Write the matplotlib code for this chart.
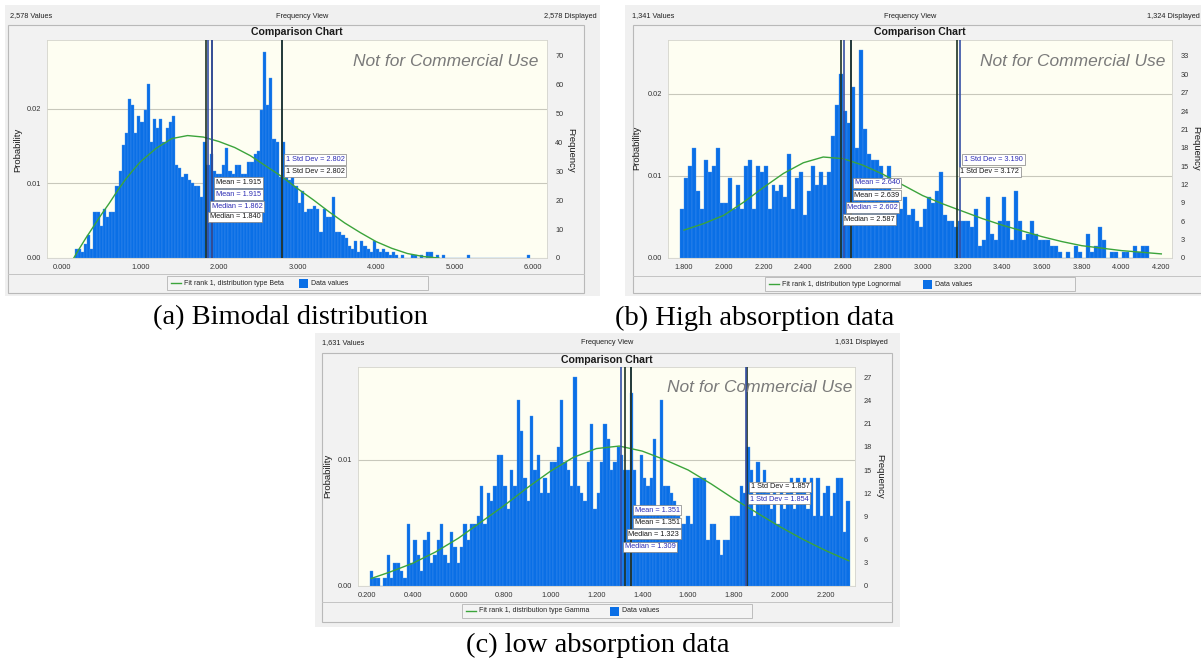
import matplotlib
matplotlib.use("Agg")
import matplotlib.pyplot as plt
from matplotlib.patches import Rectangle
from matplotlib.lines import Line2D

plt.rcParams['font.family'] = ['Liberation Sans', 'DejaVu Sans']

# ---------------- (a) bimodal distribution ----------------
A_N_VALUES = 2578
A_N_DISPLAYED = 2578
A_BIN_START = 0.16
A_BIN_WIDTH = 0.04
A_COUNTS = [
    3, 3, 2, 5, 8, 3, 16, 16, 11, 17,
    14, 16, 16, 25, 30, 39, 43, 55, 53, 43,
    49, 47, 51, 60, 40, 48, 45, 48, 40, 45,
    47, 49, 32, 31, 28, 29, 27, 26, 25, 25,
    21, 40, 32, 36, 30, 29, 29, 32, 38, 30,
    29, 32, 32, 29, 29, 33, 33, 36, 37, 51,
    71, 53, 62, 41, 40, 28,
    40, 33, 27, 29, 25, 19, 23, 16, 17, 17,
    18, 17, 9, 17, 14, 14, 21, 9, 9, 8,
    7, 4, 3, 6, 2, 6, 4, 3, 2, 6,
    3, 2, 3, 2, 1, 2, 1,
    0, 1, 0, 0, 1, 1, 0, 1, 0, 2, 2, 0, 1, 0, 1,
    0, 0, 0, 0, 0, 0, 0,
    1,
    0, 0, 0, 0, 0, 0, 0, 0, 0, 0, 0, 0, 0, 0, 0, 0, 0, 0,
    1,
]
A_FIT_NAME = "Beta"
A_FIT_X = [0.15, 0.2, 0.3, 0.4, 0.5, 0.6, 0.7, 0.8, 0.9, 1.0, 1.2, 1.4, 1.6, 1.8,
           2.0, 2.2, 2.4, 2.6, 2.8, 3.0, 3.2, 3.4, 3.6, 3.8, 4.0, 4.2, 4.4, 4.6, 4.8]
A_FIT_P = [0.0, 0.0009, 0.0026, 0.0042, 0.0058, 0.0073, 0.0089, 0.0104, 0.0117, 0.0129,
           0.0147, 0.0160, 0.0164, 0.0162, 0.0156, 0.0148, 0.0137, 0.0123, 0.0109, 0.0093,
           0.0078, 0.0062, 0.0047, 0.0034, 0.0022, 0.0013, 0.0006, 0.0002, 0.0]
A_STAT_NAMES = ["1 Std Dev", "1 Std Dev", "Mean", "Mean", "Median", "Median"]
A_STAT_VALUES = [2.802, 2.802, 1.915, 1.915, 1.862, 1.840]
A_STAT_SERIES = ["blue", "dark", "dark", "blue", "blue", "dark"]
A_XTICKS = [0.0, 1.0, 2.0, 3.0, 4.0, 5.0, 6.0]
A_PROB_TICKS = [0.0, 0.01, 0.02]
A_FREQ_TICKS = [0, 10, 20, 30, 40, 50, 60, 70]
A_CAPTION = "(a) Bimodal distribution"

# ---------------- (b) high absorption data ----------------
B_N_VALUES = 1341
B_N_DISPLAYED = 1324
B_BIN_START = 1.78
B_BIN_WIDTH = 0.02
B_COUNTS = [
    8, 13, 15, 18, 11, 8, 16, 14, 15, 18,
    9, 9, 13, 8, 12, 8, 15, 16, 8, 15,
    14, 15, 8, 12, 11, 12, 10, 17, 8, 13,
    14, 7, 11, 15, 12, 14, 12, 14, 20, 25,
    30, 24, 22, 28, 18, 34, 21, 17, 16, 16,
    15, 13, 15, 11, 10, 8, 10, 7, 8, 6,
    5,
    8, 10, 9, 11, 14, 7, 6, 6, 5, 6,
    6, 6, 5, 8, 2, 3, 10, 4, 3, 6,
    10, 6, 3, 11, 6, 3, 4, 6, 4, 3,
    3, 3, 2, 2, 1, 0, 1, 0, 2, 1,
    0, 4, 1, 2, 5, 3, 0, 1, 1, 0,
    1, 1, 0, 2, 1, 2, 2,
]
B_FIT_NAME = "Lognormal"
B_FIT_X = [1.80, 1.90, 2.00, 2.10, 2.20, 2.30, 2.40, 2.50, 2.60, 2.70, 2.80, 2.90, 3.00,
           3.10, 3.20, 3.30, 3.40, 3.50, 3.60, 3.70, 3.80, 3.90, 4.00, 4.10, 4.20]
B_FIT_P = [0.0034, 0.0042, 0.0052, 0.0068, 0.0086, 0.0103, 0.0116, 0.0123, 0.0121, 0.0113,
           0.0102, 0.0089, 0.0076, 0.0066, 0.0057, 0.0048, 0.0040, 0.0033, 0.0026, 0.0020,
           0.0015, 0.0012, 0.0009, 0.0007, 0.0005]
B_STAT_NAMES = ["1 Std Dev", "1 Std Dev", "Mean", "Mean", "Median", "Median"]
B_STAT_VALUES = [3.190, 3.172, 2.640, 2.639, 2.602, 2.587]
B_STAT_SERIES = ["blue", "dark", "blue", "dark", "blue", "dark"]
B_XTICKS = [1.8, 2.0, 2.2, 2.4, 2.6, 2.8, 3.0, 3.2, 3.4, 3.6, 3.8, 4.0, 4.2]
B_PROB_TICKS = [0.0, 0.01, 0.02]
B_FREQ_TICKS = [0, 3, 6, 9, 12, 15, 18, 21, 24, 27, 30, 33]
B_CAPTION = "(b) High absorption data"

# ---------------- (c) low absorption data ----------------
C_N_VALUES = 1631
C_N_DISPLAYED = 1631
C_BIN_START = 0.215
C_BIN_WIDTH = 0.0145
C_COUNTS = [
    2, 1, 1, 0, 1, 4, 1, 3, 3, 2,
    1, 8, 3, 6, 4, 2, 6, 7, 3, 4,
    6, 8, 4, 3, 7, 5, 3, 5, 8, 6,
    8, 8, 9, 13, 8, 12, 11, 13, 17, 17,
    13, 10, 15, 13, 24, 20, 14, 11, 22, 15,
    17, 12, 14, 12, 16, 16, 18, 24, 16, 15,
    13, 27, 13, 12, 11, 16,
    21, 10, 12, 16, 21, 19, 15, 16, 18, 17,
    15, 15, 25, 15, 10, 17, 14, 13, 14, 19,
    10, 24, 13, 13, 12, 11, 9, 8, 8, 9,
    8, 14, 14, 14, 14, 6, 8, 8, 6, 4,
    6, 6, 9, 9, 9, 13, 12, 18, 15, 9,
    16, 13, 15, 12, 10, 13, 8, 13, 10, 12,
    14, 10, 14, 13, 14, 10, 14, 9, 14, 9,
    12, 13, 9, 12, 14, 14, 7, 11,
]
C_FIT_NAME = "Gamma"
C_FIT_X = [0.22, 0.3, 0.4, 0.5, 0.6, 0.7, 0.8, 0.9, 1.0, 1.1, 1.2, 1.3, 1.4, 1.5,
           1.6, 1.7, 1.8, 1.9, 2.0, 2.1, 2.2, 2.3]
C_FIT_P = [0.0006, 0.0011, 0.0018, 0.0027, 0.0038, 0.0051, 0.0064, 0.0078, 0.0091, 0.0102,
           0.0109, 0.0111, 0.0107, 0.0100, 0.0092, 0.0081, 0.0069, 0.0058, 0.0047, 0.0037,
           0.0028, 0.0020]
C_STAT_NAMES = ["1 Std Dev", "1 Std Dev", "Mean", "Mean", "Median", "Median"]
C_STAT_VALUES = [1.857, 1.854, 1.351, 1.351, 1.323, 1.309]
C_STAT_SERIES = ["dark", "blue", "blue", "dark", "dark", "blue"]
C_XTICKS = [0.2, 0.4, 0.6, 0.8, 1.0, 1.2, 1.4, 1.6, 1.8, 2.0, 2.2]
C_PROB_TICKS = [0.0, 0.01]
C_FREQ_TICKS = [0, 3, 6, 9, 12, 15, 18, 21, 24, 27]
C_CAPTION = "(c) low absorption data"

# ---------------- drawing ----------------
W, H = 1201, 658
fig = plt.figure(figsize=(W / 100, H / 100), dpi=100)
fig.patch.set_facecolor("white")

LINE_COLORS = {"dark": "#1e3426", "blue": "#3650a6"}
TEXT_COLORS = {"dark": "#1a1a1a", "blue": "#2d2db4"}
BAR_FACE = "#0a6fe6"
BAR_EDGE = "#4a92ee"
FIT_COLOR = "#3ba43b"
SMALL = 5.3


def fx(px):
    return px / W


def fy(py):
    return 1.0 - py / H


def frect(x0, y0, x1, y1, **kw):
    r = Rectangle((fx(x0), fy(y1)), (x1 - x0) / W, (y1 - y0) / H,
                  transform=fig.transFigure, **kw)
    fig.add_artist(r)


def fline(x0, y0, x1, y1, **kw):
    fig.add_artist(Line2D([fx(x0), fx(x1)], [fy(y0), fy(y1)],
                          transform=fig.transFigure, **kw))


def ftext(x, y, s, **kw):
    return fig.text(fx(x), fy(y), s, **kw)


def draw_panel(d, lay):
    # window chrome
    x0, y0, x1, y1 = lay["window"]
    frect(x0, y0, x1, y1, fc="#f0f0f0", ec="none", zorder=-10)
    x0, y0, x1, y1 = lay["frame"]
    frect(x0, y0, x1, y1, fc="#f2f2f2", ec="#b9b9b9", lw=0.8, zorder=-9)
    fline(x0, lay["sep_y"], x1, lay["sep_y"], color="#c4c4c4", lw=0.7, zorder=-8)

    hl, hc, hr = lay["head_x"]
    hy = lay["head_y"]
    ftext(hl, hy, f"{d['n_values']:,} Values", fontsize=SMALL, ha="left", va="center", color="#222222")
    ftext(hc, hy, "Frequency View", fontsize=SMALL, ha="center", va="center", color="#222222")
    ftext(hr, hy, f"{d['n_displayed']:,} Displayed", fontsize=SMALL, ha="right", va="center", color="#222222")

    L, T, R, B = lay["plot"]
    ftext((L + R) / 2, lay["title_y"], "Comparison Chart", fontsize=7.6, fontweight="bold",
          ha="center", va="center", color="#1a1a1a")

    ax = fig.add_axes([fx(L), fy(B), (R - L) / W, (B - T) / H])
    ax.set_facecolor("#fefef2")
    for sp in ax.spines.values():
        sp.set_color("#d4d4cc")
        sp.set_linewidth(0.6)

    n = d["n_values"]
    counts = d["counts"]
    lefts = [d["bin_start"] + i * d["bin_width"] for i in range(len(counts))]
    probs = [c / n for c in counts]
    ax.bar(lefts, probs, width=d["bin_width"], align="edge", color=BAR_FACE,
           edgecolor=BAR_EDGE, linewidth=0.25, zorder=2)
    ax.plot(d["fit_x"], d["fit_p"], color=FIT_COLOR, lw=1.0, zorder=3)

    for name, val, ser, yv in zip(d["stat_names"], d["stat_values"], d["stat_series"], lay["label_y"]):
        ax.axvline(val, color=LINE_COLORS[ser], lw=1.2, zorder=4)
    for name, val, ser, yv in zip(d["stat_names"], d["stat_values"], d["stat_series"], lay["label_y"]):
        ax.annotate(f"{name} = {val:.3f}", xy=(val, yv), xytext=(2.6, 0), textcoords="offset points",
                    ha="left", va="center", fontsize=SMALL, color=TEXT_COLORS[ser], zorder=6,
                    bbox=dict(boxstyle="square,pad=0.22", fc="white", ec="#808080", lw=0.5))

    ax.set_xlim(*lay["xlim"])
    ax.set_ylim(0, lay["ytop"])
    ax.set_xticks(d["xticks"])
    ax.set_xticklabels([f"{v:.3f}" for v in d["xticks"]])
    ax.set_yticks(d["prob_ticks"])
    ax.set_yticklabels([f"{v:.2f}" for v in d["prob_ticks"]])
    ax.yaxis.grid(True, color="#c8c8bc", lw=0.8)
    ax.set_axisbelow(True)
    ax.tick_params(length=0, labelsize=SMALL, colors="#333333", pad=4)

    ax2 = ax.twinx()
    ax2.set_ylim(0, lay["ytop"] * n)
    ax2.set_yticks(d["freq_ticks"])
    ax2.set_yticklabels([str(v) for v in d["freq_ticks"]])
    ax2.tick_params(length=0, labelsize=SMALL, colors="#333333", pad=6)
    for sp in ax2.spines.values():
        sp.set_visible(False)

    ftext(lay["ylab_x"], lay["lab_y"], "Probability", rotation=90, fontsize=6.8,
          ha="center", va="center", color="#1a1a1a")
    ftext(lay["flab_x"], lay["lab_y"], "Frequency", rotation=-90, fontsize=6.8,
          ha="center", va="center", color="#1a1a1a")

    mx, my = lay["mark_xy"]
    ftext(mx, my, "Not for Commercial Use", fontsize=12.5, style="italic",
          ha="right", va="center", color="#7a7a7a", zorder=7)

    # legend strip
    lx0, ly0, lx1, ly1 = lay["legend"]
    frect(lx0, ly0, lx1, ly1, fc="#f4f4f4", ec="#b4b4b4", lw=0.6, zorder=-7)
    ly = (ly0 + ly1) / 2
    fline(lx0 + 4, ly, lx0 + 14, ly, color=FIT_COLOR, lw=1.0)
    ftext(lx0 + 17, ly, f"Fit rank 1, distribution type {d['fit_name']}", fontsize=5.0,
          ha="left", va="center", color="#222222")
    sq = lay["sq_x"]
    frect(sq, ly - 4.5, sq + 9, ly + 4.5, fc=BAR_FACE, ec="none", zorder=2)
    ftext(sq + 12, ly, "Data values", fontsize=5.0, ha="left", va="center", color="#222222")

    cx, cy = lay["caption_xy"]
    ftext(cx, cy, d["caption"], fontsize=20.5, family=["Liberation Serif", "DejaVu Serif"],
          ha="center", va="center", color="black")


PANEL_A = dict(n_values=A_N_VALUES, n_displayed=A_N_DISPLAYED, counts=A_COUNTS,
               bin_start=A_BIN_START, bin_width=A_BIN_WIDTH, fit_x=A_FIT_X, fit_p=A_FIT_P,
               fit_name=A_FIT_NAME, stat_names=A_STAT_NAMES, stat_values=A_STAT_VALUES,
               stat_series=A_STAT_SERIES, xticks=A_XTICKS, prob_ticks=A_PROB_TICKS,
               freq_ticks=A_FREQ_TICKS, caption=A_CAPTION)
PANEL_B = dict(n_values=B_N_VALUES, n_displayed=B_N_DISPLAYED, counts=B_COUNTS,
               bin_start=B_BIN_START, bin_width=B_BIN_WIDTH, fit_x=B_FIT_X, fit_p=B_FIT_P,
               fit_name=B_FIT_NAME, stat_names=B_STAT_NAMES, stat_values=B_STAT_VALUES,
               stat_series=B_STAT_SERIES, xticks=B_XTICKS, prob_ticks=B_PROB_TICKS,
               freq_ticks=B_FREQ_TICKS, caption=B_CAPTION)
PANEL_C = dict(n_values=C_N_VALUES, n_displayed=C_N_DISPLAYED, counts=C_COUNTS,
               bin_start=C_BIN_START, bin_width=C_BIN_WIDTH, fit_x=C_FIT_X, fit_p=C_FIT_P,
               fit_name=C_FIT_NAME, stat_names=C_STAT_NAMES, stat_values=C_STAT_VALUES,
               stat_series=C_STAT_SERIES, xticks=C_XTICKS, prob_ticks=C_PROB_TICKS,
               freq_ticks=C_FREQ_TICKS, caption=C_CAPTION)

LAYOUT_A = dict(window=(5, 5, 600, 296), frame=(8, 25, 584, 293), plot=(47, 40, 547, 258),
                xlim=(-0.191, 6.178), ytop=0.0292, head_x=(10, 302, 597), head_y=16, title_y=32,
                ylab_x=18, flab_x=571, lab_y=150, sep_y=274, legend=(167, 276, 428, 290), sq_x=299,
                mark_xy=(538, 61), caption_xy=(290, 318),
                label_y=[0.0132, 0.0116, 0.0101, 0.0085, 0.0069, 0.0055])
LAYOUT_B = dict(window=(625, 5, 1201, 296), frame=(633, 25, 1212, 293), plot=(668, 40, 1172, 258),
                xlim=(1.7195, 4.2537), ytop=0.02655, head_x=(632, 910, 1200), head_y=16, title_y=32,
                ylab_x=637, flab_x=1196, lab_y=148, sep_y=276, legend=(765, 277, 1075, 291), sq_x=923,
                mark_xy=(1165, 61), caption_xy=(755, 318),
                label_y=[0.0120, 0.01049, 0.00915, 0.00765, 0.00615, 0.00468])
LAYOUT_C = dict(window=(315, 333, 900, 627), frame=(322, 353, 892, 622), plot=(358, 367, 855, 586),
                xlim=(0.1621, 2.3267), ytop=0.01737, head_x=(322, 607, 888), head_y=343, title_y=360,
                ylab_x=328, flab_x=880, lab_y=476, sep_y=602, legend=(462, 604, 752, 618), sq_x=610,
                mark_xy=(852, 388), caption_xy=(598, 645),
                label_y=[0.00788, 0.0069, 0.0060, 0.0050, 0.0041, 0.0031])

draw_panel(PANEL_A, LAYOUT_A)
draw_panel(PANEL_B, LAYOUT_B)
draw_panel(PANEL_C, LAYOUT_C)

fig.savefig("out.png", dpi=100, facecolor="white")
